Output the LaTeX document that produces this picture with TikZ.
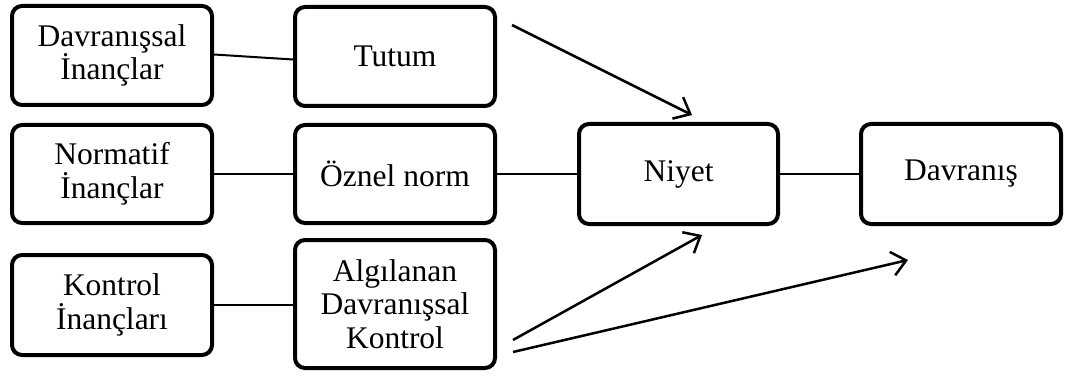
\documentclass[tikz,border=0pt]{standalone}
\usepackage{fontspec}
\setmainfont{Liberation Serif}
\usetikzlibrary{arrows.meta}
\begin{document}
\begin{tikzpicture}[x=1pt,y=-1pt,
  box/.style={draw, line width=4pt, rounded corners=10pt, align=center, inner sep=0pt,
    font=\fontsize{31.5}{33.5}\selectfont},
  link/.style={line width=2pt},
  arr/.style={line width=2.5pt, -{Straight Barb[length=14pt,width=24pt,line width=2.5pt]}}]
\useasboundingbox (0,0) rectangle (1068,377);
\node[box, minimum width=200pt, minimum height=99pt] (db) at (112,55.5) {Davranışsal\\İnançlar};
\node[box, minimum width=200pt, minimum height=99pt] (tutum) at (395,56.5) {Tutum};
\node[box, minimum width=200pt, minimum height=98pt] (nb) at (112,174) {Normatif\\İnançlar};
\node[box, minimum width=200pt, minimum height=98pt] (oz) at (395,174) {Öznel norm};
\node[box, minimum width=200pt, minimum height=100pt] (kb) at (112,305) {Kontrol\\İnançları};
\node[box, minimum width=200pt, minimum height=128pt] (ad) at (395,304) {Algılanan\\Davranışsal\\Kontrol};
\node[box, minimum width=199pt, minimum height=100pt] (niyet) at (678.5,174) {Niyet};
\node[box, minimum width=200pt, minimum height=100pt] (dav) at (961,174) {Davranış};
\coordinate (a1s) at (512,25);
\coordinate (a1e) at (692,115);
\coordinate (a2s) at (513,340);
\coordinate (a2e) at (702,235);
\coordinate (a3s) at (513,352);
\coordinate (a3e) at (908,260);
\draw[link] ([yshift=1pt]db.east) -- ([yshift=-3pt]tutum.west);
\draw[link] (nb.east) -- (oz.west);
\draw[link] (oz.east) -- (niyet.west);
\draw[link] (niyet.east) -- (dav.west);
\draw[link] (kb.east) -- (kb.east -| ad.west);
\draw[arr] (a1s) -- (a1e);
\draw[arr] (a2s) -- (a2e);
\draw[arr] (a3s) -- (a3e);
\end{tikzpicture}
\end{document}
